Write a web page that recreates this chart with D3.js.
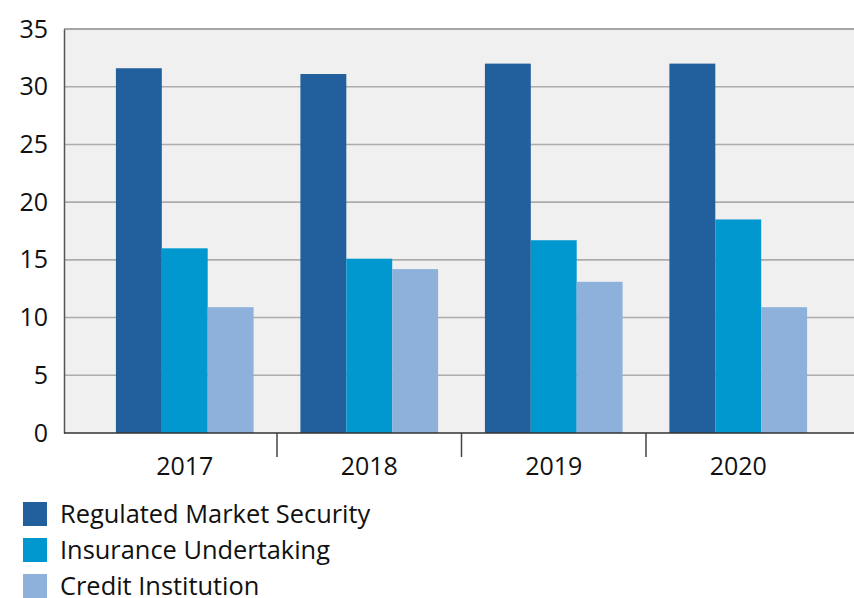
<!DOCTYPE html>
<html>
<head>
<meta charset="utf-8">
<script src="https://cdn.jsdelivr.net/npm/d3@7"></script>
<style>
  html, body { margin: 0; padding: 0; background: #fff; }
  svg { display: block; font-family: "Open Sans", "Noto Sans", sans-serif; }
</style>
</head>
<body>
<svg id="chart" width="854" height="598"></svg>
<script>
// Chart data
const years = ["2017", "2018", "2019", "2020"];
const seriesNames = ["Regulated Market Security", "Insurance Undertaking", "Credit Institution"];
const regulatedMarket = [31.6, 31.1, 32.0, 32.0];
const insurance = [16.0, 15.1, 16.7, 18.5];
const creditInstitution = [10.9, 14.2, 13.1, 10.9];
const yTicks = [0, 5, 10, 15, 20, 25, 30, 35];
const colors = ["#21609d", "#0098cf", "#8eb1dc"];

const seriesValues = [regulatedMarket, insurance, creditInstitution];

const svg = d3.select("#chart");
// the plot area runs a little past the right edge of the canvas
const plot = { left: 64, right: 859, top: 29, bottom: 433 };

const y = d3.scaleLinear().domain([0, 35]).range([plot.bottom, plot.top]);
const x = d3.scaleBand().domain(years).range([plot.left, plot.right])
  .paddingInner(0).paddingOuter(0.1545);
const xInner = d3.scaleBand().domain(d3.range(seriesNames.length))
  .range([0, x.bandwidth()]).paddingInner(0).paddingOuter(0.51);

// plot background
svg.append("rect")
  .attr("x", plot.left).attr("y", plot.top)
  .attr("width", plot.right - plot.left).attr("height", plot.bottom - plot.top)
  .attr("fill", "#f0f0f0");

// horizontal gridlines
svg.append("g").selectAll("line")
  .data(yTicks.filter(t => t > 0 && t < 35))
  .join("line")
  .attr("x1", plot.left).attr("x2", plot.right)
  .attr("y1", d => y(d)).attr("y2", d => y(d))
  .attr("stroke", "#acacac").attr("stroke-width", 1.6);

// top border
svg.append("line")
  .attr("x1", plot.left).attr("x2", plot.right)
  .attr("y1", plot.top).attr("y2", plot.top)
  .attr("stroke", "#8a8a8a").attr("stroke-width", 1.5);

// bars
const groups = svg.append("g").selectAll("g")
  .data(years)
  .join("g")
  .attr("transform", d => `translate(${x(d)},0)`);

groups.selectAll("rect")
  .data((d, i) => seriesValues.map((vals, s) => ({ s, v: vals[i] })))
  .join("rect")
  .attr("x", d => xInner(d.s))
  .attr("width", xInner.bandwidth())
  .attr("y", d => y(d.v))
  .attr("height", d => y(0) - y(d.v))
  .attr("fill", d => colors[d.s]);

// y axis
const yAxis = svg.append("g")
  .attr("transform", `translate(${plot.left},0)`)
  .call(d3.axisLeft(y).tickValues(yTicks).tickSize(0).tickPadding(16));
yAxis.select(".domain").attr("stroke", "#555").attr("stroke-width", 1.5);
yAxis.selectAll("text")
  .attr("font-size", 25).attr("fill", "#111")
  .attr("font-family", "Open Sans, Noto Sans, sans-serif");

// x axis baseline
svg.append("line")
  .attr("x1", plot.left).attr("x2", plot.right)
  .attr("y1", plot.bottom).attr("y2", plot.bottom)
  .attr("stroke", "#333").attr("stroke-width", 1.5);

// group separators between years
svg.append("g").selectAll("line")
  .data(years.slice(1))
  .join("line")
  .attr("x1", d => x(d)).attr("x2", d => x(d))
  .attr("y1", plot.bottom).attr("y2", plot.bottom + 24)
  .attr("stroke", "#444").attr("stroke-width", 1.5);

// year labels
svg.append("g").selectAll("text")
  .data(years)
  .join("text")
  .attr("x", d => x(d) + x.bandwidth() / 2)
  .attr("y", 475)
  .attr("text-anchor", "middle")
  .attr("font-size", 25).attr("fill", "#111")
  .text(d => d);

// legend
const legend = svg.append("g").selectAll("g")
  .data(seriesNames)
  .join("g")
  .attr("transform", (d, i) => `translate(23,${502 + i * 36})`);
legend.append("rect")
  .attr("width", 24).attr("height", 24)
  .attr("fill", (d, i) => colors[i]);
legend.append("text")
  .attr("x", 37).attr("y", 21)
  .attr("font-size", 25.4).attr("fill", "#111")
  .text(d => d);
</script>
</body>
</html>
